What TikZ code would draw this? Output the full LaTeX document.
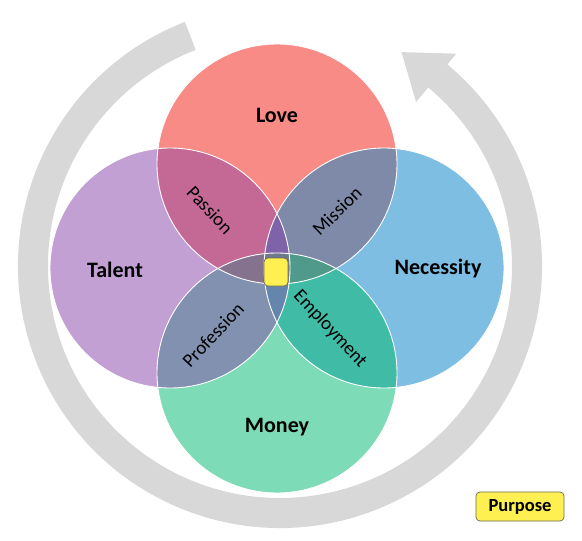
\documentclass[tikz,border=0pt]{standalone}
\usepackage{fontspec}
\setmainfont{Carlito}
\usepackage{xcolor}
\usepackage{tikz}

\definecolor{ringgray}{HTML}{D9D8D9}
\definecolor{lovecol}{HTML}{F98B86}
\definecolor{talentcol}{HTML}{C3A0D4}
\definecolor{needcol}{HTML}{7DBEE2}
\definecolor{moneycol}{HTML}{7EDBB7}
\definecolor{passioncol}{HTML}{C46996}
\definecolor{missioncol}{HTML}{7F8AA8}
\definecolor{professioncol}{HTML}{8291B0}
\definecolor{employcol}{HTML}{40BCA6}
\definecolor{ltncol}{HTML}{7F63A8}
\definecolor{mtncol}{HTML}{6585AC}
\definecolor{lmtcol}{HTML}{85728F}
\definecolor{lmncol}{HTML}{4F9A8A}
\definecolor{allcol}{HTML}{6E7A8C}
\definecolor{purposeyellow}{HTML}{FFF052}
\definecolor{purposeedge}{HTML}{6B6B4A}

\begin{document}
\begin{tikzpicture}[x=1pt,y=-1pt,
	big/.style={font=\fontsize{22}{26}\selectfont\bfseries},
	lens/.style={font=\fontsize{19}{22}\selectfont},
	sticker/.style={draw=purposeedge,fill=purposeyellow,rounded corners=4pt,line width=0.7pt,inner sep=0pt}]
	\useasboundingbox (0,0) rectangle (582,541);
	\coordinate (C) at (280,266);
	\coordinate (L) at (277,164);
	\coordinate (T) at (170,268);
	\coordinate (N) at (384,268);
	\coordinate (M) at (277,373);

	% grey ring with its head
	\fill[ringgray] ([shift={(C)}]-111.3:262) arc[start angle=-111.3,end angle=-410.3,radius=262]
		-- ([shift={(C)}]-410.3:276) -- ([shift={(C)}]-420.4:246) -- ([shift={(C)}]-410.3:213)
		-- ([shift={(C)}]-410.3:232) arc[start angle=-410.3,end angle=-111.3,radius=232] -- cycle;

	% the four circles and their overlaps
	\fill[lovecol] (L) circle[radius=120];
	\fill[talentcol] (T) circle[radius=120];
	\fill[needcol] (N) circle[radius=120];
	\fill[moneycol] (M) circle[radius=120];
	\begin{scope}
		\clip (L) circle[radius=120];
		\fill[passioncol] (T) circle[radius=120];
		\fill[missioncol] (N) circle[radius=120];
	\end{scope}
	\begin{scope}
		\clip (M) circle[radius=120];
		\fill[professioncol] (T) circle[radius=120];
		\fill[employcol] (N) circle[radius=120];
	\end{scope}
	\begin{scope}
		\clip (T) circle[radius=120];
		\clip (N) circle[radius=120];
		\fill[ltncol] (L) circle[radius=120];
		\fill[mtncol] (M) circle[radius=120];
	\end{scope}
	\begin{scope}
		\clip (L) circle[radius=120];
		\clip (M) circle[radius=120];
		\fill[lmtcol] (T) circle[radius=120];
		\fill[lmncol] (N) circle[radius=120];
		\clip (T) circle[radius=120];
		\fill[allcol] (N) circle[radius=120];
	\end{scope}
	\foreach \c in {L,T,N,M}
		\draw[white,line width=0.9pt] (\c) circle[radius=120];

	\node[big] at (277,115) (love) {Love};
	\node[big] at (115,270) (talent) {Talent};
	\node[big] at (438,269) (necessity) {Necessity};
	\node[big] at (277,427) (money) {Money};
	\node[lens,rotate=-47] at (210,210) (passion) {Passion};
	\node[lens,rotate=44] at (337,211) (mission) {Mission};
	\node[lens,rotate=47] at (213,335) (profession) {Profession};
	\node[lens,rotate=-47] at (330,329) (employment) {Employment};

	\node[sticker,minimum width=24pt,minimum height=28pt] at (276,272) (core) {};
	\node[sticker,minimum width=88pt,minimum height=29pt,font=\fontsize{18.5}{22}\selectfont\bfseries] at (520,506.5) (purpose) {Purpose};
\end{tikzpicture}
\end{document}
